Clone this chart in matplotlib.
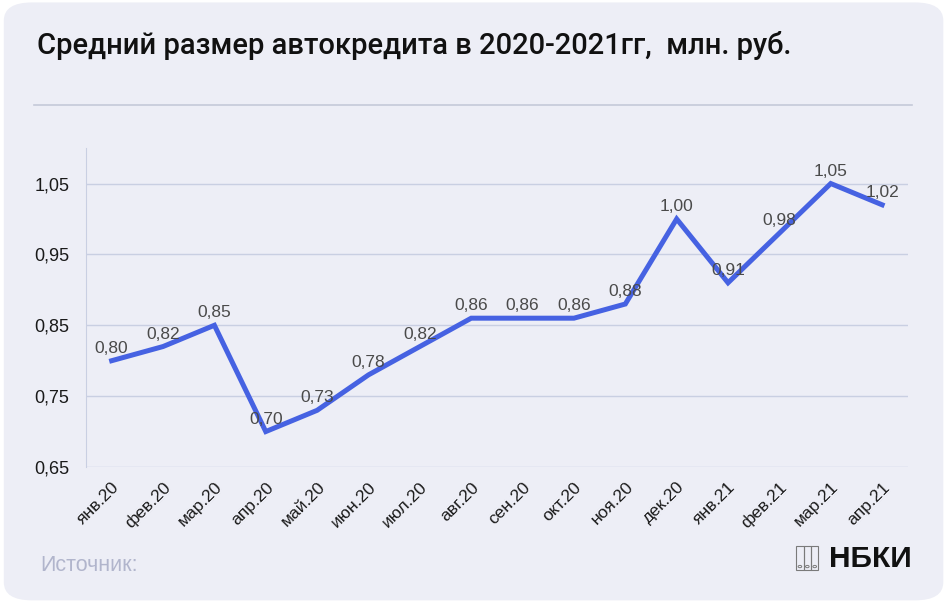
import matplotlib
matplotlib.use("Agg")
import matplotlib.pyplot as plt
from matplotlib.patches import FancyBboxPatch, Rectangle, Circle
from matplotlib.lines import Line2D

months = ['янв.20', 'фев.20', 'мар.20', 'апр.20', 'май.20', 'июн.20', 'июл.20', 'авг.20',
          'сен.20', 'окт.20', 'ноя.20', 'дек.20', 'янв.21', 'фев.21', 'мар.21', 'апр.21']
avg_loan = [0.80, 0.82, 0.85, 0.70, 0.73, 0.78, 0.82, 0.86,
            0.86, 0.86, 0.88, 1.00, 0.91, 0.98, 1.05, 1.02]
yticks = [0.65, 0.75, 0.85, 0.95, 1.05]

plt.rcParams['font.family'] = ['Liberation Sans', 'DejaVu Sans']

fig = plt.figure(figsize=(9.49, 6.04), dpi=100)
fig.patch.set_facecolor('white')

# background card
card = FancyBboxPatch((0.004, 0.006), 0.99, 0.99, boxstyle="round,pad=0,rounding_size=0.03",
                      transform=fig.transFigure, facecolor='#EDEEF6', edgecolor='none', zorder=-10)
fig.patches.append(card)

fig.text(0.039, 0.925, 'Средний размер автокредита в 2020-2021гг,  млн. руб.',
         fontsize=21, family=['Roboto', 'DejaVu Sans'], fontweight='medium',
         color='#111111', va='center', ha='left')
fig.add_artist(Line2D([0.036, 0.961], [0.826, 0.826], transform=fig.transFigure,
                      color='#C5C9D8', lw=1.2))

ax = fig.add_axes([0.0906, 0.2268, 0.866, 0.528])
ax.set_zorder(5)
ax.set_facecolor('none')
x = list(range(len(months)))
ax.plot(x, avg_loan, color='#4662E2', lw=3.6, solid_joinstyle='miter', zorder=3)
for xi, v in zip(x, avg_loan):
    ax.annotate(f'{v:.2f}'.replace('.', ','), (xi, v), xytext=(0, 3.5), textcoords='offset points',
                ha='center', va='bottom', fontsize=12.5, color='#4A4A4A', zorder=4)

ax.set_xlim(-0.5, 15.5)
ax.set_ylim(0.65, 1.10)
ax.set_yticks(yticks)
ax.set_yticklabels([f'{t:.2f}'.replace('.', ',') for t in yticks], fontsize=13, color='#1A1A1A')
ax.set_xticks(x)
ax.set_xticklabels(months, rotation=45, ha='right', rotation_mode='anchor', fontsize=12.5, color='#1A1A1A')
ax.tick_params(length=0, axis='y', pad=12)
ax.tick_params(length=0, axis='x', pad=9)
ax.grid(axis='y', color='#C9CFE2', lw=1)
ax.set_axisbelow(True)
for s in ['top', 'right', 'bottom']:
    ax.spines[s].set_visible(False)
ax.spines['left'].set_color('#C9CFE2')

fig.text(0.042, 0.064, 'Источник:', fontsize=15.5, color='#B1B5CC', va='center', ha='left')

# logo
fig.text(0.961, 0.075, 'НБКИ', fontsize=21.5, fontweight='bold', color='#111111', va='center', ha='right')
for i in range(3):
    x0 = 0.839 + i * 0.0078
    fig.add_artist(Rectangle((x0, 0.056), 0.0078, 0.040, transform=fig.transFigure,
                             facecolor='none', edgecolor='#7A7A7A', lw=0.8))
    fig.add_artist(Circle((x0 + 0.0039, 0.062), 0.0019, transform=fig.transFigure,
                          facecolor='none', edgecolor='#7A7A7A', lw=0.7))

fig.savefig('out.png', dpi=100, facecolor=fig.get_facecolor())
